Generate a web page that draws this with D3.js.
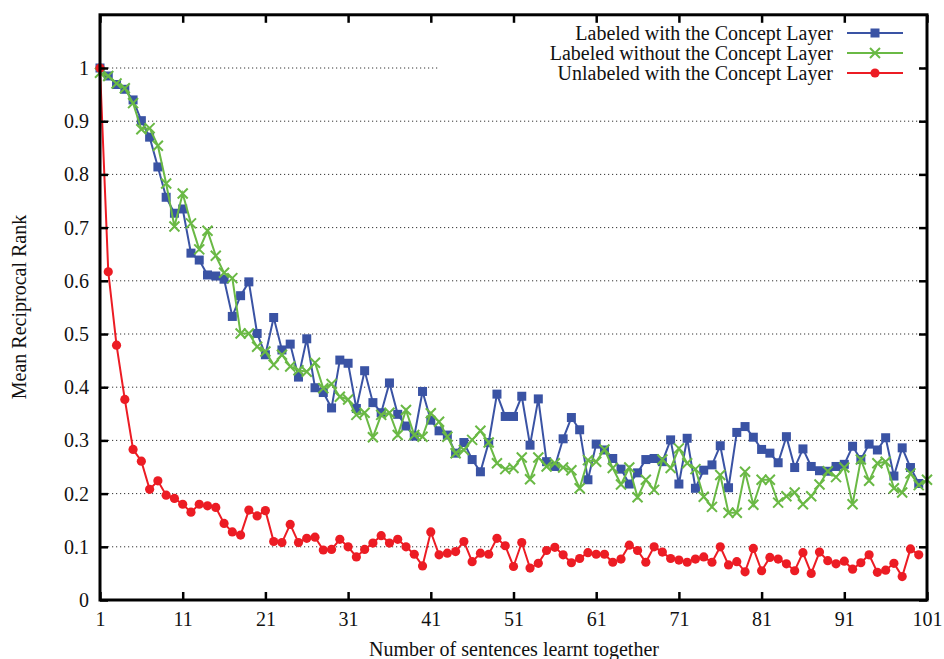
<!DOCTYPE html>
<html>
<head>
<meta charset="utf-8">
<script src="https://cdn.jsdelivr.net/npm/d3@7"></script>
<style>
  body { margin: 0; background: #fff; }
  text { font-family: "Liberation Serif", "DejaVu Serif", serif; fill: #111; }
</style>
</head>
<body>
<div id="chart"></div>
<script>
// Mean reciprocal rank per number of sentences learnt together (x = index + 1)
const labeledWithConcept = [
    1.0, 0.985, 0.969, 0.960, 0.940, 0.901, 0.870, 0.814, 0.757, 0.727,
    0.735, 0.652, 0.639, 0.611, 0.609, 0.603, 0.533, 0.572, 0.598, 0.501,
    0.461, 0.531, 0.470, 0.481, 0.419, 0.491, 0.399, 0.390, 0.361, 0.451,
    0.445, 0.360, 0.431, 0.371, 0.352, 0.408, 0.349, 0.327, 0.308, 0.392,
    0.338, 0.318, 0.310, 0.276, 0.296, 0.264, 0.241, 0.296, 0.387, 0.345,
    0.345, 0.383, 0.291, 0.378, 0.260, 0.251, 0.303, 0.343, 0.320, 0.226,
    0.293, 0.282, 0.266, 0.246, 0.218, 0.239, 0.264, 0.266, 0.260, 0.301,
    0.218, 0.304, 0.210, 0.244, 0.254, 0.290, 0.211, 0.315, 0.326, 0.306,
    0.283, 0.276, 0.258, 0.307, 0.249, 0.284, 0.251, 0.243, 0.242, 0.251,
    0.255, 0.289, 0.264, 0.293, 0.282, 0.305, 0.233, 0.286, 0.249, 0.219
];

const labeledWithoutConcept = [
    0.991, 0.985, 0.971, 0.962, 0.934, 0.885, 0.887, 0.854, 0.783, 0.702,
    0.764, 0.708, 0.659, 0.694, 0.647, 0.615, 0.605, 0.501, 0.501, 0.476,
    0.467, 0.442, 0.461, 0.439, 0.432, 0.429, 0.446, 0.398, 0.406, 0.382,
    0.377, 0.348, 0.352, 0.306, 0.348, 0.352, 0.310, 0.357, 0.310, 0.307,
    0.351, 0.335, 0.307, 0.276, 0.282, 0.301, 0.318, 0.296, 0.257, 0.246,
    0.248, 0.268, 0.227, 0.268, 0.251, 0.257, 0.249, 0.244, 0.210, 0.263,
    0.260, 0.283, 0.248, 0.217, 0.249, 0.193, 0.226, 0.207, 0.264, 0.248,
    0.285, 0.257, 0.246, 0.194, 0.175, 0.235, 0.164, 0.164, 0.241, 0.179,
    0.226, 0.226, 0.183, 0.195, 0.202, 0.180, 0.195, 0.217, 0.242, 0.231,
    0.249, 0.180, 0.264, 0.224, 0.257, 0.260, 0.210, 0.202, 0.238, 0.216,
    0.226
];

const unlabeledWithConcept = [
    1.0, 0.617, 0.479, 0.377, 0.283, 0.261, 0.208, 0.224, 0.197, 0.191,
    0.180, 0.165, 0.180, 0.177, 0.174, 0.144, 0.128, 0.122, 0.169, 0.158,
    0.168, 0.110, 0.108, 0.142, 0.108, 0.116, 0.118, 0.094, 0.095, 0.114,
    0.100, 0.081, 0.095, 0.107, 0.121, 0.107, 0.114, 0.100, 0.086, 0.064,
    0.128, 0.085, 0.088, 0.091, 0.110, 0.072, 0.088, 0.086, 0.116, 0.102,
    0.063, 0.108, 0.060, 0.069, 0.093, 0.099, 0.085, 0.070, 0.078, 0.089,
    0.086, 0.086, 0.071, 0.077, 0.103, 0.093, 0.071, 0.100, 0.090, 0.078,
    0.075, 0.071, 0.077, 0.081, 0.071, 0.100, 0.066, 0.072, 0.053, 0.097,
    0.055, 0.080, 0.077, 0.068, 0.055, 0.089, 0.050, 0.090, 0.074, 0.068,
    0.073, 0.058, 0.070, 0.085, 0.052, 0.056, 0.069, 0.044, 0.096, 0.085
];

const xTicks = [1, 11, 21, 31, 41, 51, 61, 71, 81, 91, 101];
const yTicks = [0, 0.1, 0.2, 0.3, 0.4, 0.5, 0.6, 0.7, 0.8, 0.9, 1];
const yTickLabels = ["0", "0.1", "0.2", "0.3", "0.4", "0.5", "0.6", "0.7", "0.8", "0.9", "1"];

const seriesNames = [
    "Labeled with the Concept Layer",
    "Labeled without the Concept Layer",
    "Unlabeled with the Concept Layer"
];
const seriesColors = ["#3a53a4", "#6ab945", "#ec1c24"];
const seriesShapes = ["square", "cross", "circle"];

const series = [labeledWithConcept, labeledWithoutConcept, unlabeledWithConcept]
    .map((vals, k) => ({
        name: seriesNames[k],
        color: seriesColors[k],
        shape: seriesShapes[k],
        points: vals.map((v, i) => ({ x: i + 1, y: v }))
    }));

// SVG and plot area
const width = 944, height = 659;
const plotLeft = 100, plotRight = 927, plotTop = 14.8, plotBottom = 600;
const fontSize = "20px";

const svg = d3.select("#chart")
    .append("svg")
    .attr("width", width)
    .attr("height", height);

const x = d3.scaleLinear().domain([1, 101]).range([plotLeft, plotRight]);
const y = d3.scaleLinear().domain([0, 1.1]).range([plotBottom, plotTop]);

// dotted horizontal grid
svg.append("g")
    .selectAll("line")
    .data(yTicks.filter(d => d > 0))
    .enter()
    .append("line")
    .attr("x1", plotLeft)
    .attr("x2", plotRight)
    .attr("y1", d => y(d))
    .attr("y2", d => y(d))
    .attr("stroke", "#333")
    .attr("stroke-width", 1)
    .attr("stroke-dasharray", "1.2,2.8");

// marker drawing helper
function drawMarker(sel, shape, color) {
    if (shape === "square") {
        sel.append("rect")
            .attr("x", -4.5).attr("y", -4.5)
            .attr("width", 9).attr("height", 9)
            .attr("fill", color);
    } else if (shape === "circle") {
        sel.append("circle")
            .attr("r", 4.6)
            .attr("fill", color);
    } else {
        sel.append("path")
            .attr("d", "M-5,-5L5,5M-5,5L5,-5")
            .attr("stroke", color)
            .attr("stroke-width", 2)
            .attr("fill", "none");
    }
}

const line = d3.line()
    .x(d => x(d.x))
    .y(d => y(d.y));

const plot = svg.append("g");

// drawn in legend order: blue, green, red on top
series.forEach(s => {
    const g = plot.append("g");
    g.append("path")
        .datum(s.points)
        .attr("d", line)
        .attr("fill", "none")
        .attr("stroke", s.color)
        .attr("stroke-width", 2);
    g.selectAll("g.mark")
        .data(s.points)
        .enter()
        .append("g")
        .attr("class", "mark")
        .attr("transform", d => `translate(${x(d.x)},${y(d.y)})`)
        .each(function () { drawMarker(d3.select(this), s.shape, s.color); });
});

// legend (opaque box)
svg.append("rect")
    .attr("x", 440).attr("y", 24)
    .attr("width", 478).attr("height", 56)
    .attr("fill", "#fff");

const legend = svg.append("g")
    .selectAll("g")
    .data(series)
    .enter()
    .append("g")
    .attr("transform", (d, i) => `translate(0,${33 + i * 20})`);

legend.append("text")
    .attr("x", 833)
    .attr("y", 0)
    .attr("dy", "0.35em")
    .attr("text-anchor", "end")
    .style("font-size", fontSize)
    .text(d => d.name);

legend.append("line")
    .attr("x1", 847).attr("x2", 903)
    .attr("y1", 0).attr("y2", 0)
    .attr("stroke", d => d.color)
    .attr("stroke-width", 2);

legend.append("g")
    .attr("transform", "translate(875,0)")
    .each(function (d) { drawMarker(d3.select(this), d.shape, d.color); });

// axes with inward ticks
svg.append("g")
    .attr("transform", `translate(0,${plotBottom})`)
    .call(d3.axisBottom(x).tickValues(xTicks).tickSize(-8).tickPadding(12).tickSizeOuter(0));

svg.append("g")
    .attr("transform", `translate(${plotLeft},0)`)
    .call(d3.axisLeft(y).tickValues(yTicks).tickSize(-8).tickPadding(11).tickSizeOuter(0)
        .tickFormat((d, i) => yTickLabels[i]));

svg.append("g")
    .attr("transform", `translate(0,${plotTop})`)
    .call(d3.axisTop(x).tickValues(xTicks).tickSize(-8).tickFormat("").tickSizeOuter(0));

svg.append("g")
    .attr("transform", `translate(${plotRight},0)`)
    .call(d3.axisRight(y).tickValues(yTicks).tickSize(-8).tickFormat("").tickSizeOuter(0));

svg.selectAll(".domain").remove();
svg.selectAll(".tick line").attr("stroke", "#000").attr("stroke-width", 2.5);
svg.selectAll(".tick text")
    .style("font-family", "'Liberation Serif', serif")
    .style("font-size", fontSize)
    .attr("fill", "#111");

// frame
svg.append("rect")
    .attr("x", plotLeft).attr("y", plotTop)
    .attr("width", plotRight - plotLeft).attr("height", plotBottom - plotTop)
    .attr("fill", "none")
    .attr("stroke", "#000")
    .attr("stroke-width", 3);

// axis titles
svg.append("text")
    .attr("x", 514)
    .attr("y", 656)
    .attr("text-anchor", "middle")
    .style("font-size", fontSize)
    .text("Number of sentences learnt together");

svg.append("text")
    .attr("transform", "translate(26,307) rotate(-90)")
    .attr("text-anchor", "middle")
    .style("font-size", fontSize)
    .text("Mean Reciprocal Rank");
</script>
</body>
</html>
